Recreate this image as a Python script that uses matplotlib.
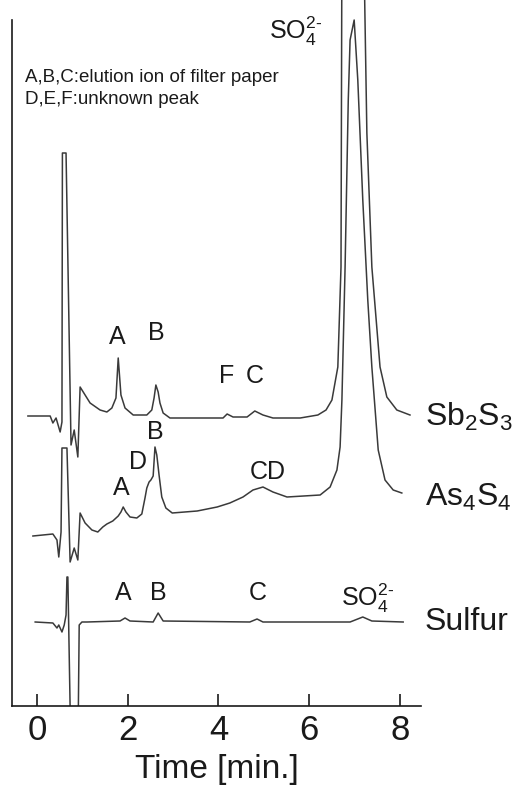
import numpy as np
import matplotlib.pyplot as plt

plt.rcParams['font.family'] = ['Liberation Sans', 'DejaVu Sans']
plt.rcParams['mathtext.fontset'] = 'custom'
plt.rcParams['mathtext.rm'] = 'Liberation Sans'

# Chromatogram traces (time in min, signal in arbitrary units above each baseline)
t_sb = [-0.20, 0.29, 0.35, 0.42, 0.51, 0.55, 0.56, 0.64, 0.75, 0.82, 0.90, 0.95, 1.06, 1.17, 1.39,
        1.54, 1.65, 1.74, 1.79, 1.85, 1.94, 2.12, 2.42, 2.53, 2.58, 2.62, 2.67, 2.71, 2.78, 2.93,
        4.10, 4.19, 4.32, 4.63, 4.80, 4.98, 5.20, 5.80, 6.19, 6.37, 6.50, 6.63, 6.70, 6.72, 7.20,
        7.27, 7.38, 7.56, 7.71, 7.93, 8.22]
s_sb = [0, 0, -7, -2, -16, -6, 263, 263, -29, -14, -41, 29, 21, 13, 6,
        4, 8, 18, 58, 21, 8, 1, 1, 6, 18, 31, 24, 13, 3, -2,
        -2, 2, -1, -1, 5, 1, -2, -2, 1, 6, 16, 49, 149, 476, 476,
        283, 149, 49, 19, 6, 1]

t_as = [-0.09, 0.35, 0.44, 0.48, 0.53, 0.55, 0.66, 0.73, 0.82, 0.90, 0.95, 1.06, 1.21, 1.34, 1.45,
        1.54, 1.67, 1.79, 1.85, 1.90, 1.96, 2.05, 2.20, 2.31, 2.38, 2.42, 2.47, 2.51, 2.56, 2.60,
        2.64, 2.69, 2.75, 2.84, 2.98, 3.53, 3.97, 4.25, 4.54, 4.76, 4.98, 5.20, 5.51, 6.24, 6.46,
        6.61, 6.68, 6.72, 6.79, 6.86, 6.90, 6.99, 7.07, 7.18, 7.29, 7.38, 7.52, 7.67, 7.85, 8.04]
s_as = [-1, 1, -5, -22, 3, 87, 87, -27, -13, -25, 22, 12, 5, 3, 8,
        11, 14, 19, 23, 28, 23, 18, 17, 21, 37, 47, 53, 55, 59, 88,
        80, 60, 38, 27, 22, 24, 28, 32, 38, 45, 48, 43, 38, 40, 48,
        65, 88, 135, 268, 435, 495, 515, 455, 335, 235, 168, 85, 55, 45, 42]

t_su = [-0.04, 0.35, 0.44, 0.48, 0.55, 0.60, 0.64, 0.66, 0.68, 0.75, 0.90, 0.93, 0.99, 1.10, 1.83,
        1.94, 2.05, 2.56, 2.67, 2.78, 4.69, 4.85, 4.98, 6.90, 7.18, 7.38, 8.07]
s_su = [0, -1, -6, -3, -10, -3, 7, 45, 45, -138, -138, -3, 0, 0, 1,
        4, 1, 0, 9, 1, 0, 3, 0, 0, 5, 1, 0]

samples = ['Sb$_\\mathregular{2}$S$_\\mathregular{3}$', 'As$_\\mathregular{4}$S$_\\mathregular{4}$', 'Sulfur']
baselines = [290, 171, 84]
label_y = [289, 209, 84]

so4 = 'SO$_\\mathregular{4}^{\\mathregular{2}\\text{-}}$'
peak_labels = [('A', 1.76, 369), ('B', 2.62, 373), ('F', 4.17, 330), ('C', 4.80, 330),
               ('A', 1.85, 218), ('D', 2.23, 244), ('B', 2.60, 274), ('CD', 5.09, 234),
               ('A', 1.90, 113), ('B', 2.67, 113), ('C', 4.87, 113), (so4, 7.28, 108),
               (so4, 5.69, 675)]

fig = plt.figure(figsize=(5.17, 7.89), dpi=100)
ax = fig.add_axes([12 / 517, 83 / 789, 409 / 517, 706 / 789])

col = '#3a3a3a'
for t, s, b in zip([t_sb, t_as, t_su], [s_sb, s_as, s_su], baselines):
    ax.plot(t, np.array(s) + b, color=col, lw=1.1)

for name, y in zip(samples, label_y):
    ax.text(8.55, y, name, fontsize=23, va='center', ha='left', color='#1a1a1a', clip_on=False)

for txt, x, y in peak_labels:
    ax.text(x, y, txt, fontsize=18, ha='center', va='center', color='#1a1a1a')

ax.text(-0.27, 629, 'A,B,C:elution ion of filter paper', fontsize=13.5, va='center', color='#1a1a1a')
ax.text(-0.27, 606, 'D,E,F:unknown peak', fontsize=13.5, va='center', color='#1a1a1a')

ax.set_xlim(-0.551, 8.463)
ax.set_ylim(0, 706)
ax.spines['top'].set_visible(False)
ax.spines['right'].set_visible(False)
ax.spines['left'].set_bounds(0, 686)
for sp in ['left', 'bottom']:
    ax.spines[sp].set_linewidth(1.2)
    ax.spines[sp].set_color('#1a1a1a')
ax.set_yticks([])
ax.set_xticks([0, 2, 4, 6, 8])
ax.tick_params(axis='x', direction='in', length=9, width=1.2, pad=6, colors='#1a1a1a')
for lab in ax.get_xticklabels():
    lab.set_family(['Liberation Sans Narrow', 'Liberation Sans'])
    lab.set_fontsize(25)
ax.set_xlabel('Time [min.]', fontsize=24, labelpad=5, color='#1a1a1a',
              family=['Liberation Sans Narrow', 'Liberation Sans'])

fig.savefig('out.png', dpi=100)
